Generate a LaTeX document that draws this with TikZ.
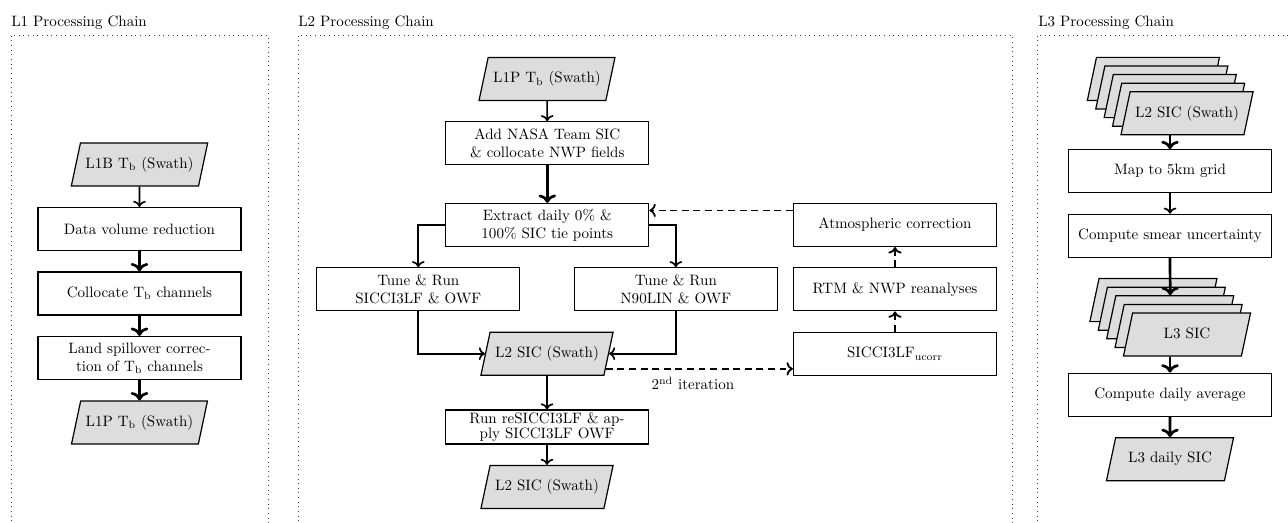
\documentclass[tikz,border=0pt]{standalone}
\usetikzlibrary{shapes.geometric,calc,arrows.meta}
\definecolor{fillgray}{RGB}{221,221,221}
\begin{document}
\begin{tikzpicture}[x=0.665pt,y=-0.665pt,
  box/.style={draw, line width=0.8pt, rectangle, minimum width=135pt, minimum height=28.6pt, align=center, inner sep=2pt},
  data/.style={draw, line width=0.8pt, fill=fillgray, trapezium, trapezium left angle=78, trapezium right angle=102, trapezium stretches body, minimum width=84.5pt, text height=7.5pt, text depth=2.5pt, inner xsep=3.33pt, inner ysep=9.3pt},
  arr/.style={-{To}, line width=1.1pt},
  arrthick/.style={-{To}, line width=1.8pt},
  dasharr/.style={-{To}, line width=1.2pt, dash pattern=on 4.6pt off 3.1pt},
  frame/.style={draw=black!75, line width=0.6pt, dash pattern=on 0.6pt off 2.5pt},
  title/.style={anchor=base west, inner sep=0pt},
]
\useasboundingbox (0,0) rectangle (1288,522);
\clip (0,0) rectangle (1288,522);

% frames and titles
\draw[frame] (11,540) -- (11,35) -- (268,35) -- (268,540);
\draw[frame] (298,540) -- (298,35) -- (1012,35) -- (1012,540);
\draw[frame] (1037,540) -- (1037,35) -- (1300,35);
\node[title] (t1) at (11,26.5) {L1 Processing Chain};
\node[title] (t2) at (298,26.5) {L2 Processing Chain};
\node[title] (t3) at (1038,26.5) {L3 Processing Chain};

% L1
\node[data] (l1b) at (139.5,164.5) {L1B $\mathrm{T_b}$ (Swath)};
\node[box] (dvr) at (139.5,229) {Data volume reduction};
\node[box] (col) at (139.5,293.5) {Collocate $\mathrm{T_b}$ channels};
\node[box] (land) at (139.5,358) {Land spillover correc-\\tion of $\mathrm{T_b}$ channels};
\node[data] (l1p) at (139.5,422.5) {L1P $\mathrm{T_b}$ (Swath)};
\draw[arr] (l1b) -- (dvr);
\draw[arrthick] (dvr) -- (col);
\draw[arrthick] (col) -- (land);
\draw[arrthick] (land) -- (l1p);

% L2
\node[data] (l2in) at (547,79) {L1P $\mathrm{T_b}$ (Swath)};
\node[box] (nasa) at (547.3,143.3) {Add NASA Team SIC\\\& collocate NWP fields};
\node[box] (tie) at (547.3,225) {Extract daily 0\% \&\\100\% SIC tie points};
\node[box] (tunea) at (418.3,289.3) {Tune \& Run\\SICCI3LF \& OWF};
\node[box] (tuneb) at (675.8,289.3) {Tune \& Run\\N90LIN \& OWF};
\node[data] (l2sic) at (547,353.7) {L2 SIC (Swath)};
\node[box, minimum height=22.6pt, inner ysep=1pt] (run) at (547,427) {Run reSICCI3LF \& ap-\\[-2pt]ply SICCI3LF OWF};
\node[data] (l2out) at (547,487) {L2 SIC (Swath)};
\node[box] (atm) at (895,225) {Atmospheric correction};
\node[box] (rtm) at (895,289.3) {RTM \& NWP reanalyses};
\node[box] (ucorr) at (895,353.7) {SICCI3LF$_{\mathrm{ucorr}}$};

\draw[arr] (l2in) -- (nasa);
\draw[arrthick] (nasa) -- (tie);
\draw[arr] (tie.west) -| (tunea.north);
\draw[arr] (tie.east) -| (tuneb.north);
\draw[arr] (tunea.south) |- (l2sic);
\draw[arr] (tuneb.south) |- (l2sic);
\draw[arr] (l2sic) -- (run);
\draw[arr] (run) -- (l2out);
\coordinate (d1) at ($(atm.north west)!0.17!(atm.south west)$);
\draw[dasharr] (d1) -- (tie.east |- d1);
\coordinate (d2) at ($(l2sic.bottom right corner)!0.157!(l2sic.top right corner)$);
\draw[dasharr] (d2) -- node[below=1.5pt, pos=0.465] {2$^{\mathrm{nd}}$ iteration} (ucorr.west |- d2);
\draw[dasharr] (ucorr) -- (rtm);
\draw[dasharr] (rtm) -- (atm);

% L3
\node[data] (sa4) at (1153.4,78.9) {\phantom{L2 SIC (Swath)}};
\node[data] (sa3) at (1161.8,87.5) {\phantom{L2 SIC (Swath)}};
\node[data] (sa2) at (1170.2,96.1) {\phantom{L2 SIC (Swath)}};
\node[data] (sa1) at (1178.6,104.7) {\phantom{L2 SIC (Swath)}};
\node[data] (sa0) at (1187,113.3) {L2 SIC (Swath)};
\node[box] (map) at (1170,171.3) {Map to 5km grid};
\node[box] (smear) at (1170,235.8) {Compute smear uncertainty};
\node[data] (sb4) at (1153.4,300.1) {\phantom{L3 SIC}};
\node[data] (sb3) at (1161.8,308.7) {\phantom{L3 SIC}};
\node[data] (sb2) at (1170.2,317.3) {\phantom{L3 SIC}};
\node[data] (sb1) at (1178.6,325.9) {\phantom{L3 SIC}};
\node[data] (sb0) at (1187,334.5) {L3 SIC};
\node[box] (daily) at (1170,394.7) {Compute daily average};
\node[data] (l3d) at (1170,459.2) {L3 daily SIC};

\draw[arrthick] (sa0.south -| map.north) -- (map.north);
\draw[arr] (map) -- (smear);
\draw[arrthick] (smear.south) -- (sb2.north);
\draw[arrthick] (sb0.south -| daily.north) -- (daily.north);
\draw[arrthick] (daily) -- (l3d);
\end{tikzpicture}
\end{document}
